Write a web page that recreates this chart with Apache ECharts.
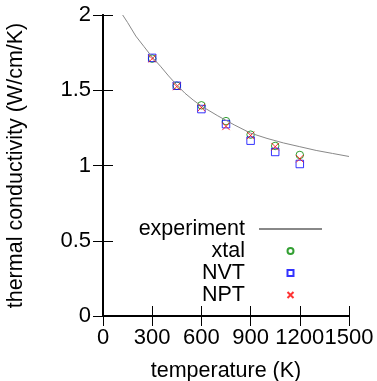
<!DOCTYPE html>
<html><head><meta charset="utf-8">
<script src="https://cdn.jsdelivr.net/npm/echarts@6/dist/echarts.min.js"></script>
<style>html,body{margin:0;padding:0;background:#fff}#c{width:377px;height:381px}</style>
</head><body><div id="c"></div>
<script>
// experiment curve
const expT = [120,150,200,250,300,350,400,450,500,550,600,700,800,900,1000,1100,1200,1300,1400,1500];
const expK = [2.0,1.95,1.86,1.79,1.72,1.66,1.595,1.535,1.48,1.435,1.395,1.33,1.27,1.215,1.18,1.15,1.125,1.10,1.08,1.06];
// simulation temperatures
const simT = [300,450,600,750,900,1050,1200];
const xtal = [1.71,1.53,1.40,1.295,1.205,1.13,1.07];
const nvt  = [1.715,1.53,1.375,1.275,1.165,1.09,1.01];
const npt  = [1.71,1.525,1.385,1.26,1.2,1.125,1.045];
const xTicks = [0,300,600,900,1200,1500];
const yTicks = [0,0.5,1,1.5,2];

const font = 'Liberation Sans, Arial, sans-serif';
const zip = (a,b) => a.map((v,i)=>[v,b[i]]);
const chart = echarts.init(document.getElementById('c'));
const tickStyle = {show:true, inside:true, length:10, lineStyle:{color:'#000', width:1}};
const lineStyle = {show:true, lineStyle:{color:'#000', width:2}};
chart.setOption({
  animation:false,
  grid:{left:103, right:28, top:15, bottom:65, containLabel:false, outerBoundsMode:'none'},
  xAxis:[{
    type:'value', min:xTicks[0], max:xTicks[xTicks.length-1], interval:300,
    axisLine:lineStyle, axisTick:tickStyle, splitLine:{show:false},
    axisLabel:{fontSize:22, color:'#000', fontFamily:font, margin:11, hideOverlap:false,
      showMinLabel:true, showMaxLabel:true, formatter:v=>String(v)},
    name:'temperature (K)', nameLocation:'middle', nameGap:44,
    nameTextStyle:{fontSize:21.5, color:'#000', fontFamily:font}
  },{
    type:'value', position:'top', min:0, max:1500, interval:300,
    axisLine:lineStyle, axisTick:tickStyle, axisLabel:{show:false}, splitLine:{show:false}
  }],
  yAxis:[{
    type:'value', min:yTicks[0], max:yTicks[yTicks.length-1], interval:0.5,
    axisLine:lineStyle, axisTick:tickStyle, splitLine:{show:false},
    axisLabel:{fontSize:22, color:'#000', fontFamily:font, margin:12, formatter:v=>String(v)},
    name:'thermal conductivity (W/cm/K)', nameLocation:'middle', nameGap:76,
    nameTextStyle:{fontSize:21.5, color:'#000', fontFamily:font}
  },{
    type:'value', position:'right', min:0, max:2, interval:0.5,
    axisLine:lineStyle, axisTick:tickStyle, axisLabel:{show:false}, splitLine:{show:false}
  }],
  legend:{
    orient:'vertical', align:'right', right:54, top:218, padding:0, itemGap:0,
    itemWidth:63, itemHeight:6,
    textStyle:{fontSize:21.5, color:'#000', fontFamily:font, lineHeight:21.7, padding:[0,9,0,0]},
    data:['experiment','xtal','NVT','NPT']
  },
  series:[
    {name:'experiment', type:'line', data:zip(expT,expK), showSymbol:false, symbol:'none',
     lineStyle:{color:'#888', width:1}, itemStyle:{color:'rgba(0,0,0,0)', borderWidth:0}},
    {name:'xtal', type:'scatter', data:zip(simT,xtal), symbol:'circle', symbolSize:7.5, symbolKeepAspect:true,
     itemStyle:{color:'rgba(0,0,0,0)', borderColor:'#008800', borderWidth:1}},
    {name:'NVT', type:'scatter', data:zip(simT,nvt), symbol:'path://M0,0L10,0L10,10L0,10Z', symbolSize:7.5, symbolKeepAspect:true,
     itemStyle:{color:'rgba(0,0,0,0)', borderColor:'#0000ff', borderWidth:1}},
    {name:'NPT', type:'scatter', data:zip(simT,npt), symbol:'path://M0,0L10,10M10,0L0,10', symbolSize:7.5, symbolKeepAspect:true,
     itemStyle:{color:'rgba(0,0,0,0)', borderColor:'#ff0000', borderWidth:1}}
  ]
});
</script></body></html>
